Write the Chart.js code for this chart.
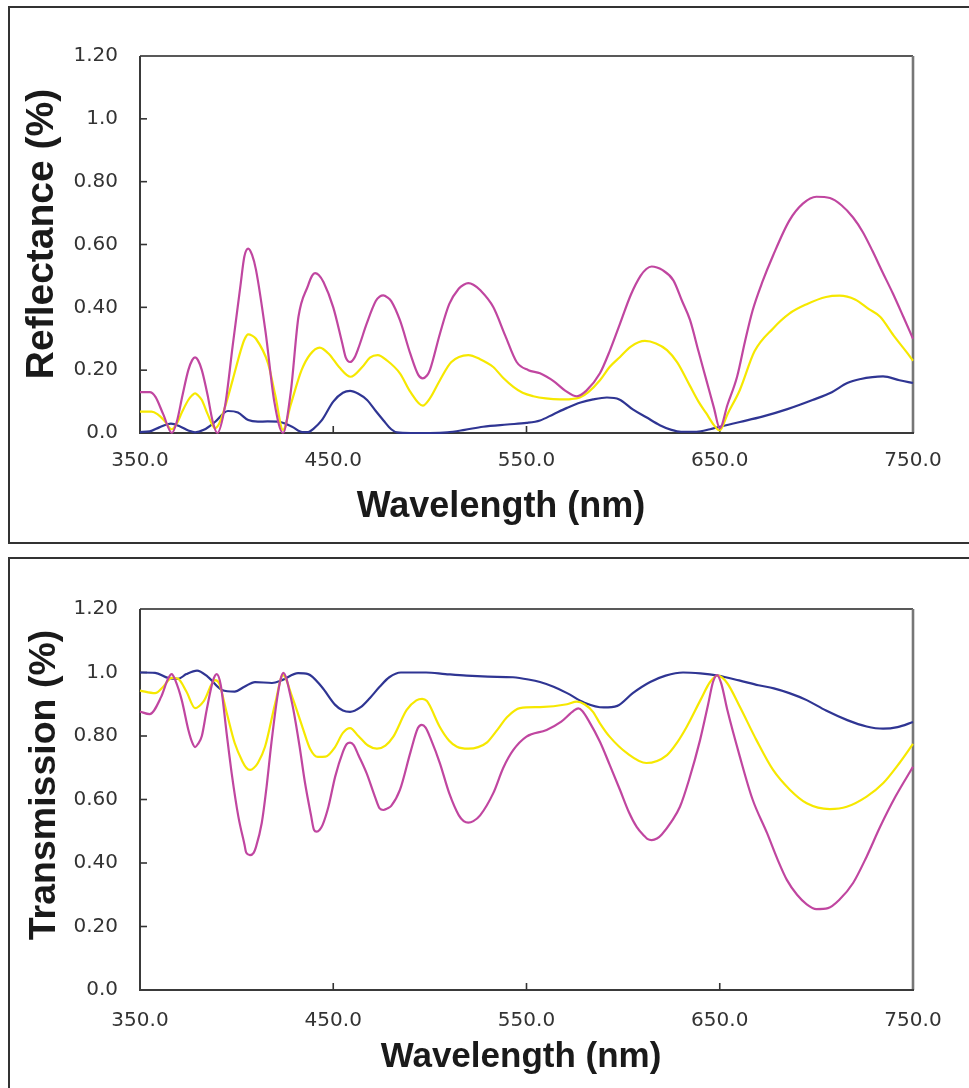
<!DOCTYPE html>
<html>
<head>
<meta charset="utf-8">
<script src="https://cdn.jsdelivr.net/npm/chart.js@4.4.1/dist/chart.umd.min.js"></script>
<style>
  html, body { margin:0; padding:0; background:#fff; width:969px; height:1088px; overflow:hidden; }
  .panel { position:absolute; left:8px; width:990px; border:2px solid #333; box-sizing:border-box; }
  #p1 { top:6px; height:538px; }
  #p2 { top:557px; height:600px; }
  canvas { position:absolute; left:0; }
  #c1 { top:0; }
  #c2 { top:545px; }
</style>
</head>
<body>
<div class="panel" id="p1"></div>
<div class="panel" id="p2"></div>
<canvas id="c1" width="969" height="545"></canvas>
<canvas id="c2" width="969" height="543"></canvas>
<script>
// ---- tick labels ----
const xTickLabels = ["350.0", "450.0", "550.0", "650.0", "750.0"];
const yTickLabels = ["0.0", "0.20", "0.40", "0.60", "0.80", "1.0", "1.20"];

// ---- Reflectance (top panel) ----
const reflMagentaWl = [350,355,358,362,366.5,369,372,375,377,378.5,380,382,385,387.5,390,394,398,402,404,406,408,410,415,419.5,424,428,432,437,439,440.6,442.5,445,450,454.5,456.5,458.7,461,463,467.3,472,474,475.9,478,480,484.5,490,494,496.3,498.5,500,505.2,510,515,517.5,519.9,522.5,526,532.8,539,544.9,551,557,564,570,576,581,588,593,598.4,604,609,612,614.8,617.5,620,626,630.5,634.6,639,643,647,650,654,659,663,667,672,677.6,686,693,700,707,713,719,724,729,734,739.6,745,750];
const reflMagenta   = [0.13,0.13,0.115,0.06,0.0,0.035,0.12,0.2,0.232,0.241,0.232,0.2,0.12,0.04,0.0,0.086,0.28,0.47,0.562,0.587,0.567,0.52,0.32,0.1,0.0,0.13,0.37,0.47,0.5,0.509,0.503,0.48,0.40,0.29,0.24,0.226,0.24,0.27,0.348,0.42,0.434,0.438,0.432,0.42,0.359,0.25,0.185,0.174,0.183,0.2,0.316,0.41,0.46,0.472,0.477,0.472,0.455,0.401,0.31,0.226,0.2,0.19,0.165,0.135,0.117,0.135,0.19,0.26,0.348,0.44,0.5,0.522,0.53,0.527,0.52,0.486,0.42,0.36,0.26,0.17,0.08,0.015,0.09,0.18,0.29,0.39,0.48,0.565,0.676,0.73,0.752,0.748,0.725,0.686,0.64,0.58,0.515,0.444,0.37,0.30];

const reflYellowWl = [350,356,359,362.5,366.4,369,372,375,377,378.5,380,382,385,388.8,391,394,398,402,404,406,408,410,416.3,420,424,428,433.6,438,443,448,453,459,465,469,473,478,484.5,490,496.3,500,505.2,511,519.9,526,532.8,538,543.2,548,553.5,560,567.3,573,577.6,582,588,593,598.4,604,611.3,617,622.7,628,634.6,639,643,647,650,654,660.4,668,677.6,686,695,705,712,720,727,733,740,747,750];
const reflYellow   = [0.068,0.068,0.06,0.04,0.012,0.03,0.07,0.105,0.12,0.126,0.12,0.105,0.06,0.015,0.03,0.083,0.17,0.26,0.297,0.314,0.31,0.3,0.221,0.12,0.01,0.09,0.2,0.25,0.272,0.25,0.21,0.179,0.21,0.24,0.248,0.23,0.19,0.13,0.087,0.11,0.168,0.225,0.248,0.235,0.21,0.175,0.147,0.128,0.117,0.11,0.107,0.108,0.113,0.13,0.168,0.21,0.242,0.275,0.293,0.285,0.264,0.225,0.15,0.1,0.063,0.025,0.008,0.06,0.137,0.26,0.333,0.38,0.41,0.433,0.437,0.425,0.395,0.37,0.31,0.255,0.23];

const reflBlueWl = [350,355,360,366,371,375,378.5,383,388.8,395.5,400.7,406,411,416,421.4,428.7,434,437,440,444,450,455,458.7,463,467.5,472,476,480,483,490,500,509,518,527.5,540,550,557,564,571,578,584.5,591.6,598,605,612,619,625,630,638,645,650,660.4,672,685,698,708,716,723,729,734.5,743,750];
const reflBlue   = [0.003,0.005,0.018,0.03,0.02,0.008,0.002,0.01,0.035,0.07,0.065,0.041,0.036,0.037,0.036,0.02,0.003,0.003,0.015,0.04,0.1,0.128,0.134,0.125,0.105,0.07,0.04,0.012,0.002,0.0,0.0,0.002,0.01,0.02,0.027,0.032,0.04,0.06,0.08,0.097,0.107,0.113,0.107,0.075,0.05,0.025,0.01,0.004,0.004,0.012,0.02,0.035,0.052,0.076,0.105,0.13,0.159,0.172,0.178,0.18,0.168,0.159];

// ---- Transmission (bottom panel) ----
const transMagentaWl = [350,355,361,364.5,366.4,368.3,371.6,375,377,378.5,380,382,384.5,387.8,389.7,391.8,394.8,397.5,400.9,404,405,406.9,408.8,410,413,415.5,418,421,422.8,424.2,425.7,427,429.4,432.5,435.4,438.5,440,441.4,443,444.5,447.5,451,455,457,458.7,460.5,463,467.3,471.5,474,475.9,478,480,484.5,490,493.8,495.8,497.8,500.5,505.2,510,515,517.5,519.9,522.5,526,532.8,538,543.2,550,560.4,568,574.5,576.8,579,582,588,593,598.4,603,607,611,612.5,614.8,617.5,620,625,629.4,634,639.8,644,646.5,648.6,650.8,654,660.4,667,674.5,680,684.8,690,695,700,706,712,719,726,733,741,750];
const transMagenta   = [0.877,0.869,0.924,0.98,0.995,0.975,0.913,0.82,0.78,0.765,0.775,0.8,0.882,0.975,0.995,0.96,0.81,0.68,0.546,0.46,0.432,0.425,0.432,0.45,0.526,0.64,0.778,0.92,0.98,0.999,0.982,0.95,0.882,0.77,0.652,0.55,0.505,0.499,0.505,0.52,0.577,0.672,0.75,0.775,0.779,0.772,0.74,0.682,0.61,0.572,0.567,0.572,0.58,0.63,0.75,0.825,0.835,0.826,0.79,0.714,0.62,0.55,0.532,0.527,0.532,0.55,0.62,0.7,0.756,0.798,0.819,0.845,0.88,0.887,0.878,0.85,0.782,0.71,0.63,0.56,0.514,0.485,0.476,0.472,0.477,0.49,0.53,0.577,0.66,0.787,0.9,0.97,0.992,0.965,0.88,0.735,0.6,0.494,0.41,0.346,0.3,0.27,0.255,0.258,0.285,0.337,0.42,0.514,0.61,0.703];

const transYellowWl = [350,357.8,362,366.4,369.7,374,378.5,383,388.8,391,395,399,403,405,407,409,411,414.7,420,424,428.7,434,438,442,446,451,455,458.7,463,468,472.6,477,481,488,493,496,498.5,500,505,510,514,519.9,525,529.6,535,540,546.6,557,571,576,580,584.4,588,593,602,612,622.7,628,633,640,645,649,653.8,660.4,669,677.6,686.4,695,707,715.7,726,734.5,743,750];
const transYellow   = [0.943,0.935,0.955,0.983,0.98,0.94,0.888,0.91,0.976,0.965,0.87,0.778,0.72,0.7,0.693,0.7,0.715,0.766,0.904,0.992,0.924,0.829,0.76,0.734,0.735,0.766,0.81,0.825,0.8,0.77,0.76,0.77,0.797,0.882,0.912,0.917,0.91,0.895,0.83,0.785,0.766,0.76,0.765,0.78,0.82,0.86,0.888,0.891,0.90,0.908,0.9,0.876,0.84,0.798,0.746,0.715,0.74,0.78,0.83,0.913,0.97,0.99,0.967,0.892,0.787,0.693,0.63,0.588,0.57,0.577,0.609,0.651,0.715,0.775];

const transBlueWl = [350,357.8,364.5,369.7,374,379.5,385,392.4,399,404,409.5,418.3,423.5,431.8,437,444,451,455,458.7,464,469,474,479,485,498,508,519,530,543,551,557,564,571,580,590,597,605,614,622,631,640,649,660,670,678,686,695,705,716,726,734.5,742,750];
const transBlue   = [1.0,0.999,0.983,0.98,0.995,1.006,0.987,0.945,0.94,0.955,0.97,0.967,0.976,0.998,0.995,0.955,0.898,0.88,0.876,0.89,0.92,0.955,0.985,1.0,1.0,0.995,0.99,0.987,0.985,0.978,0.97,0.955,0.935,0.905,0.89,0.895,0.935,0.97,0.99,1.0,0.997,0.99,0.975,0.96,0.95,0.935,0.913,0.88,0.85,0.83,0.823,0.828,0.844];

// ---- styling ----
const COL_MAGENTA = '#c046a0';
const COL_YELLOW  = '#f6e800';
const COL_BLUE    = '#2f3593';

function pts(wl, vals) { return wl.map((x, i) => ({ x: x, y: vals[i] })); }

function ds(wl, vals, color) {
  return {
    data: pts(wl, vals),
    borderColor: color,
    borderWidth: 2.2,
    pointRadius: 0,
    fill: false,
    cubicInterpolationMode: 'monotone',
    clip: false
  };
}

const frame = {
  id: 'frame',
  beforeDatasetsDraw(chart) {
    const { ctx, chartArea: a, scales } = chart;
    ctx.save();
    ctx.lineCap = 'butt';
    ctx.strokeStyle = '#222'; ctx.lineWidth = 1.6;
    ctx.beginPath(); ctx.moveTo(a.left, a.top); ctx.lineTo(a.right, a.top); ctx.stroke();
    ctx.strokeStyle = '#777'; ctx.lineWidth = 2.6;
    ctx.beginPath(); ctx.moveTo(a.right, a.top); ctx.lineTo(a.right, a.bottom); ctx.stroke();
    ctx.strokeStyle = '#3a3a3a'; ctx.lineWidth = 2;
    ctx.beginPath(); ctx.moveTo(a.left, a.top); ctx.lineTo(a.left, a.bottom); ctx.lineTo(a.right + 1, a.bottom); ctx.stroke();
    ctx.strokeStyle = '#333'; ctx.lineWidth = 1.6;
    const ys = scales.y, xs = scales.x;
    ys.ticks.forEach((t, i) => {
      if (i === 0 || i === ys.ticks.length - 1) return;
      const py = ys.getPixelForValue(t.value);
      ctx.beginPath(); ctx.moveTo(a.left, py); ctx.lineTo(a.left + 7, py); ctx.stroke();
    });
    xs.ticks.forEach((t, i) => {
      if (i === 0 || i === xs.ticks.length - 1) return;
      const px = xs.getPixelForValue(t.value);
      ctx.beginPath(); ctx.moveTo(px, a.bottom); ctx.lineTo(px, a.bottom - 7); ctx.stroke();
    });
    ctx.restore();
  }
};

// axis titles drawn as canvas text at their positions in the reference
function titlesPlugin(cfg) {
  return {
    id: 'axisTitles',
    afterDraw(chart) {
      const ctx = chart.ctx;
      ctx.save();
      ctx.fillStyle = '#1a1a1a';
      ctx.textAlign = 'center';
      ctx.textBaseline = 'alphabetic';
      ctx.font = 'bold ' + cfg.xSize + 'px "Liberation Sans", Arial, sans-serif';
      ctx.fillText(cfg.xText, cfg.xCx, cfg.xBase);
      ctx.translate(cfg.yBase, cfg.yCy);
      ctx.rotate(-Math.PI / 2);
      ctx.font = 'bold ' + cfg.ySize + 'px "Liberation Sans", Arial, sans-serif';
      ctx.fillText(cfg.yText, 0, 0);
      ctx.restore();
    }
  };
}

function makeChart(id, datasets, padTop, xAxisH, xTickPad, titles) {
  return new Chart(document.getElementById(id), {
    type: 'line',
    data: { datasets: datasets },
    options: {
      responsive: false,
      maintainAspectRatio: false,
      animation: false,
      devicePixelRatio: 1,
      layout: { padding: { left: 0, right: 56, top: padTop, bottom: 0 } },
      plugins: { legend: { display: false }, tooltip: { enabled: false } },
      scales: {
        x: {
          type: 'linear', min: 350, max: 750,
          border: { display: false },
          grid: { display: false, drawTicks: false },
          ticks: {
            stepSize: 100, padding: xTickPad, color: '#333',
            font: { family: 'DejaVu Sans', size: 20 },
            maxRotation: 0,
            callback: (v, i) => xTickLabels[i]
          },
          title: { display: false },
          afterFit: (s) => { s.height = xAxisH; }
        },
        y: {
          min: 0, max: 1.2,
          border: { display: false },
          grid: { display: false, drawTicks: false },
          ticks: {
            stepSize: 0.2, padding: 22, color: '#333',
            font: { family: 'DejaVu Sans', size: 20 },
            callback: (v, i) => yTickLabels[i]
          },
          title: { display: false },
          afterFit: (s) => { s.width = 140; }
        }
      }
    },
    plugins: [frame, titlesPlugin(titles)]
  });
}

makeChart('c1', [
  ds(reflMagentaWl, reflMagenta, COL_MAGENTA),
  ds(reflYellowWl, reflYellow, COL_YELLOW),
  ds(reflBlueWl, reflBlue, COL_BLUE)
], 56, 112, 16,
  { xText: 'Wavelength (nm)', xSize: 36, xCx: 501, xBase: 517,
    yText: 'Reflectance (%)', ySize: 39, yCy: 234, yBase: 53 });

makeChart('c2', [
  ds(transMagentaWl, transMagenta, COL_MAGENTA),
  ds(transYellowWl, transYellow, COL_YELLOW),
  ds(transBlueWl, transBlue, COL_BLUE)
], 64, 98, 19,
  { xText: 'Wavelength (nm)', xSize: 35, xCx: 521, xBase: 522,
    yText: 'Transmission (%)', ySize: 37.5, yCy: 240, yBase: 55 });
</script>
</body>
</html>
